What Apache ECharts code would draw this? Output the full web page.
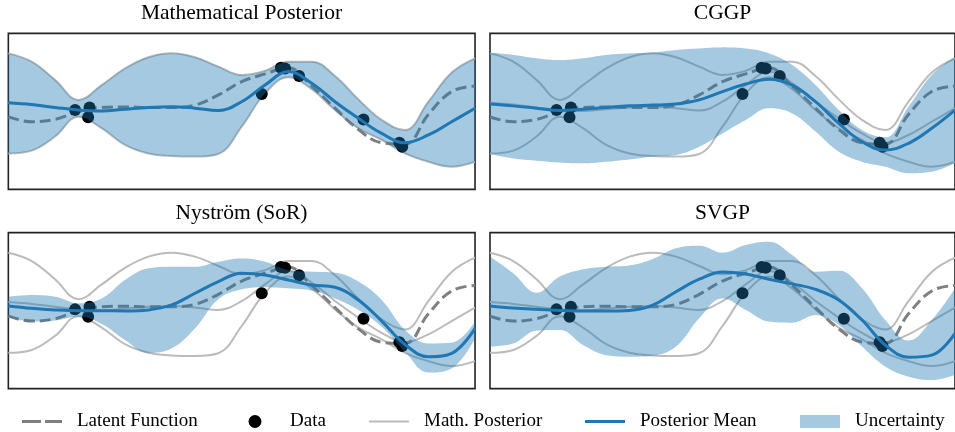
<!DOCTYPE html>
<html><head><meta charset="utf-8">
<script src="https://cdn.jsdelivr.net/npm/echarts@6/dist/echarts.min.js"></script>
<style>html,body{margin:0;padding:0;background:#fff}#c{width:955px;height:432px}</style>
</head><body><div id="c"></div>
<script>
// shared x grid
const xs = [0, 0.5, 1, 1.5, 2, 2.5, 3, 3.5, 4, 4.5, 5, 5.5, 6, 6.5, 7, 7.5, 8, 8.5, 9, 9.5, 10];
// latent function
const latent = [-0.21, -0.40, -0.31, -0.01, 0.15, 0.17, 0.15, 0.15, 0.24, 0.63, 1.14, 1.44, 1.68, 0.97, 0.12, -0.70, -1.21, -1.26, -0.12, 0.76, 0.97];
// observations
const dataX = [1.43, 1.74, 1.71, 5.43, 5.84, 5.93, 6.23, 7.61, 8.38, 8.44];
const dataY = [0.05, 0.15, -0.23, 0.67, 1.68, 1.65, 1.36, -0.31, -1.21, -1.36];
// mathematical posterior
const mathMean  = [0.33, 0.26, 0.15, 0.05, 0.01, 0.08, 0.15, 0.18, 0.12, 0.03, 0.37, 1.01, 1.53, 1.08, 0.37, -0.27, -0.85, -1.21, -0.91, -0.40, 0.12];
const mathUpper = [2.23, 1.91, 1.21, 0.44, 1.01, 1.65, 2.08, 2.23, 2.08, 1.72, 1.40, 1.56, 1.91, 1.91, 1.36, 0.46, -0.33, -0.72, 0.37, 1.49, 2.04];
const mathLower = [-1.62, -1.51, -0.97, -0.21, -0.65, -1.29, -1.62, -1.72, -1.74, -1.64, -0.59, 0.69, 1.31, 0.85, 0.05, -0.65, -1.10, -1.62, -1.94, -2.13, -1.94];
// CGGP
const cggpMean  = [0.28, 0.21, 0.12, 0.03, 0.08, 0.15, 0.21, 0.24, 0.28, 0.44, 0.76, 1.05, 1.23, 1.01, 0.37, -0.46, -1.17, -1.49, -1.23, -0.65, 0.05];
const cggpUpper = [2.26, 2.17, 2.04, 1.97, 2.04, 2.17, 2.23, 2.26, 2.36, 2.42, 2.46, 2.42, 2.23, 1.78, 1.01, 0.05, -0.72, -1.00, 0.18, 1.40, 2.10];
const cggpLower = [-1.64, -1.81, -1.90, -1.97, -2.00, -1.94, -1.85, -1.74, -1.68, -1.36, -0.85, -0.33, 0.12, -0.08, -0.78, -1.55, -1.94, -2.13, -2.38, -2.32, -2.00];
// Nystrom (SoR)
const nysMean  = [0.18, 0.09, 0.03, 0.00, 0.00, -0.01, 0.03, 0.22, 0.67, 1.12, 1.44, 1.37, 1.18, 0.99, 0.90, 0.41, -0.40, -1.30, -1.77, -1.64, -0.68];
const nysUpper = [0.54, 0.60, 0.54, 0.28, 0.47, 1.18, 1.63, 1.69, 1.69, 1.88, 2.01, 1.88, 1.56, 1.50, 1.46, 1.12, 0.41, -0.74, -1.26, -1.23, -0.42];
const nysLower = [-0.23, -0.42, -0.38, -0.23, -0.51, -1.13, -1.62, -1.45, -0.68, 0.44, 0.82, 0.90, 0.86, 0.77, 0.47, 0.03, -0.62, -1.58, -2.38, -2.22, -1.06];
// SVGP
const svgpMean  = [0.18, 0.10, 0.05, 0.01, -0.01, -0.01, 0.01, 0.21, 0.73, 1.21, 1.49, 1.41, 1.21, 1.03, 0.82, 0.41, -0.36, -1.32, -1.79, -1.71, -0.87];
const svgpUpper = [2.08, 1.44, 0.69, 1.31, 1.59, 1.69, 1.74, 1.99, 2.40, 2.50, 2.23, 2.53, 2.65, 2.14, 1.50, 1.54, 0.86, -0.36, -1.15, -0.36, 0.86];
const svgpLower = [-1.38, -1.26, -0.77, -0.74, -1.32, -1.71, -1.77, -1.73, -1.38, -0.29, 0.47, 0.03, -0.42, -0.46, -0.17, -0.55, -1.38, -2.15, -2.54, -2.67, -2.47];

const panelTitles = ['Mathematical Posterior', 'CGGP', 'Nyström (SoR)', 'SVGP'];
const legendNames = ['Latent Function', 'Data', 'Math. Posterior', 'Posterior Mean', 'Uncertainty'];

const panels = [
  {mean: mathMean, upper: mathUpper, lower: mathLower},
  {mean: cggpMean, upper: cggpUpper, lower: cggpLower},
  {mean: nysMean, upper: nysUpper, lower: nysLower},
  {mean: svgpMean, upper: svgpUpper, lower: svgpLower}
];

const BLUE = '#1f77b4';
const SMOOTH = 0.4;
const SERIF = '"Liberation Serif", "Times New Roman", serif';
const pair = (ys) => xs.map((x, i) => [x, ys[i]]);

// bezier sampling in pixel space, mirroring the line series smoothing
function smoothSample(pts, s, steps) {
  const n = pts.length, cpA = [], cpB = [];
  cpA[0] = pts[0]; cpB[0] = pts[0]; cpA[n - 1] = pts[n - 1]; cpB[n - 1] = pts[n - 1];
  for (let i = 1; i < n - 1; i++) {
    const [x, y] = pts[i], [px, py] = pts[i - 1], [nx, ny] = pts[i + 1];
    const vx = nx - px, vy = ny - py;
    const l0 = Math.hypot(x - px, y - py) || 1e-6, l1 = Math.hypot(nx - x, ny - y) || 1e-6;
    const r = l1 / (l0 + l1);
    let ax = x + vx * s * r, ay = y + vy * s * r;
    ax = Math.max(Math.min(ax, Math.max(nx, x)), Math.min(nx, x));
    ay = Math.max(Math.min(ay, Math.max(ny, y)), Math.min(ny, y));
    let bx = x - (ax - x) * l0 / l1, by = y - (ay - y) * l0 / l1;
    bx = Math.max(Math.min(bx, Math.max(px, x)), Math.min(px, x));
    by = Math.max(Math.min(by, Math.max(py, y)), Math.min(py, y));
    ax = x + (x - bx) * l1 / l0; ay = y + (y - by) * l1 / l0;
    cpA[i] = [ax, ay]; cpB[i] = [bx, by];
  }
  const out = [pts[0]];
  for (let i = 0; i < n - 1; i++) {
    const p0 = pts[i], c1 = cpA[i], c2 = cpB[i + 1], p3 = pts[i + 1];
    for (let k = 1; k <= steps; k++) {
      const t = k / steps, u = 1 - t;
      out.push([
        u * u * u * p0[0] + 3 * u * u * t * c1[0] + 3 * u * t * t * c2[0] + t * t * t * p3[0],
        u * u * u * p0[1] + 3 * u * u * t * c1[1] + 3 * u * t * t * c2[1] + t * t * t * p3[1]
      ]);
    }
  }
  return out;
}

const gridBoxes = [
  {left: 8.33, top: 33.33}, {left: 490, top: 33.33},
  {left: 8.33, top: 232.67}, {left: 490, top: 232.67}
];
const grids = gridBoxes.map(g => ({
  left: g.left, top: g.top, width: 466.7, height: 156,
  show: true, borderColor: '#222', borderWidth: 1.6, backgroundColor: 'transparent'
}));
const hiddenAxis = {show: false, axisLine: {show: false}, axisTick: {show: false}, axisLabel: {show: false}, splitLine: {show: false}};
const xAxes = grids.map((g, i) => Object.assign({type: 'value', gridIndex: i, min: 0, max: 10}, hiddenAxis));
const yAxes = grids.map((g, i) => Object.assign({type: 'value', gridIndex: i, min: -3, max: 3}, hiddenAxis));

const series = [];
panels.forEach((p, i) => {
  const base = {type: 'line', xAxisIndex: i, yAxisIndex: i, symbol: 'none', smooth: SMOOTH, silent: true, animation: false};
  [mathUpper, mathMean, mathLower].forEach(arr => {
    series.push(Object.assign({}, base, {name: 'Math. Posterior', data: pair(arr), z: 2,
      color: '#bbbbbb', lineStyle: {color: '#bbbbbb', width: 2}}));
  });
  series.push(Object.assign({}, base, {name: 'Latent Function', data: pair(latent), z: 3,
    color: '#7f7f7f', lineStyle: {color: '#7f7f7f', width: 3, type: [11, 5]}}));
  series.push({type: 'scatter', name: 'Data', xAxisIndex: i, yAxisIndex: i, z: 4, silent: true, animation: false,
    symbol: 'circle', symbolSize: 12, itemStyle: {color: '#000', opacity: 1},
    data: dataX.map((x, k) => [x, dataY[k]])});
  series.push({type: 'custom', name: 'Uncertainty', xAxisIndex: i, yAxisIndex: i, z: 5, silent: true,
    animation: false, clip: true, itemStyle: {color: BLUE},
    data: [[5, 0]],
    renderItem: function (params, api) {
      const up = smoothSample(xs.map((x, k) => api.coord([x, p.upper[k]])), SMOOTH, 12);
      const lo = smoothSample(xs.map((x, k) => api.coord([x, p.lower[k]])), SMOOTH, 12);
      return {type: 'polygon', shape: {points: up.concat(lo.reverse())},
        style: {fill: BLUE, opacity: 0.4, stroke: null}};
    }});
  series.push(Object.assign({}, base, {name: 'Posterior Mean', data: pair(p.mean), z: 6,
    color: BLUE, lineStyle: {color: BLUE, width: 3}}));
});

const titleCenters = [[241.5, 13.7], [722.5, 13.7], [241.5, 213], [722.5, 213]];
const graphic = panelTitles.map((t, i) => ({
  type: 'text', x: titleCenters[i][0], y: titleCenters[i][1], silent: true,
  style: {text: t, font: '21.5px ' + SERIF, fill: '#000', textAlign: 'center', textVerticalAlign: 'middle'}
}));

const legendIcons = {
  'Latent Function': 'path://M0,0h19v3h-19zM23,0h17v3h-17z',
  'Data': 'circle',
  'Math. Posterior': 'path://M0,0h40v2h-40z',
  'Posterior Mean': 'path://M0,0h40v3h-40z',
  'Uncertainty': 'rect'
};
const legendLeft = [22, 248.5, 369, 585, 800];
const legends = legendNames.map((nm, i) => ({
  left: legendLeft[i], top: 412, padding: 0, itemWidth: 40, itemHeight: 13,
  selectedMode: false,
  textStyle: {fontFamily: SERIF, fontSize: 19, color: '#000', padding: [0, 0, 0, 10]},
  data: [nm === 'Uncertainty'
    ? {name: nm, icon: legendIcons[nm], itemStyle: {color: 'rgba(31,119,180,0.4)', borderWidth: 0}}
    : {name: nm, icon: legendIcons[nm]}]
}));

const chart = echarts.init(document.getElementById('c'), null, {renderer: 'canvas'});
chart.setOption({
  animation: false,
  backgroundColor: '#fff',
  grid: grids, xAxis: xAxes, yAxis: yAxes,
  graphic: graphic,
  legend: legends,
  series: series
});
</script></body></html>
